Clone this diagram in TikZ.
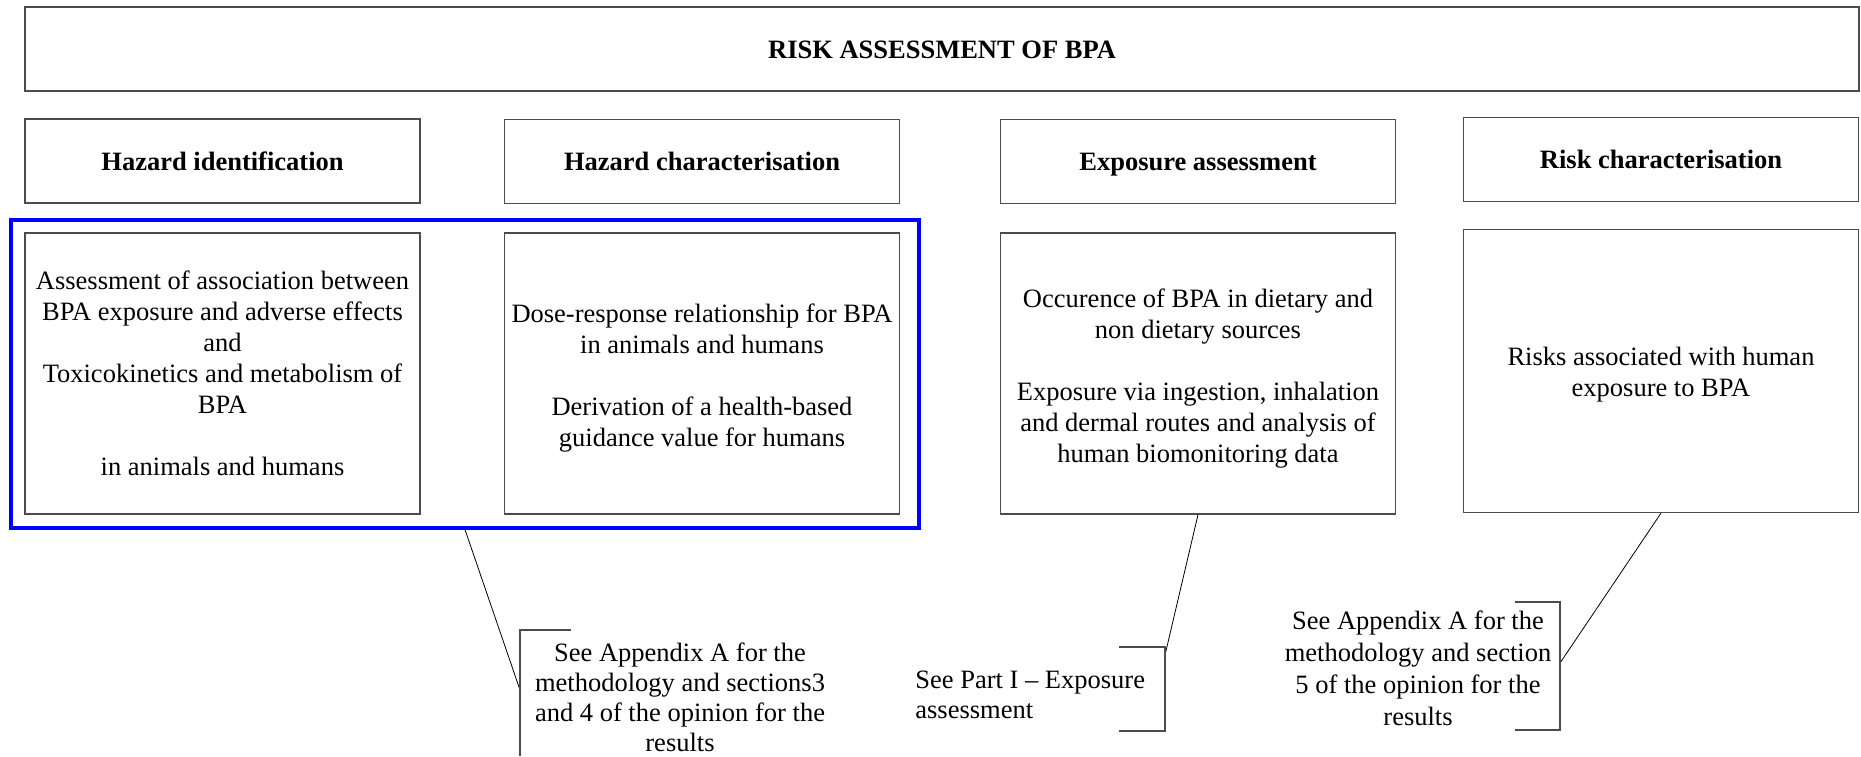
\documentclass[tikz,border=0pt]{standalone}
\usepackage{fontspec}
\setmainfont{Liberation Serif}
\begin{document}
\begin{tikzpicture}[x=0.5pt, y=-0.5pt,
  box/.style={draw=black!70, line width=0.6pt, inner sep=0pt, align=center, font=\fontsize{13.25}{15.5}\selectfont},
  headbox/.style={box, minimum width=197.5pt, minimum height=42pt, text height=9pt, text depth=0pt, font=\fontsize{13.25}{15.5}\selectfont\bfseries},
  bodybox/.style={box, minimum width=197.5pt, minimum height=140.5pt},
  group/.style={draw=blue, line width=1.6pt, inner sep=0pt},
  note/.style={inner sep=0pt, align=center, font=\fontsize{13.25}{15}\selectfont},
  leader/.style={draw=black, line width=0.4pt},
  bracket/.style={draw=black!70, line width=0.6pt}]
  \useasboundingbox (0,0) rectangle (1861,756);
  % title and the four stages
  \node[headbox, minimum width=917pt] (title) at (942,49) {RISK ASSESSMENT OF BPA};
  \node[headbox] (hazid) at (222.5,161) {Hazard identification};
  \node[headbox] (hazchar) at (702,161.5) {Hazard characterisation};
  \node[headbox] (expo) at (1198,161.5) {Exposure assessment};
  \node[headbox] (riskchar) at (1661,159.5) {Risk characterisation};
  % what each stage covers
  \node[bodybox] (hazidbody) at (222.5,373.5) {Assessment of association between\\BPA exposure and adverse effects\\and\\Toxicokinetics and metabolism of\\BPA\\[15.5pt]in animals and humans};
  \node[bodybox] (hazcharbody) at (702,373.5) {\rule{0pt}{14pt}Dose-response relationship for BPA\\in animals and humans\\[15.5pt]Derivation of a health-based\\guidance value for humans};
  \node[bodybox] (expobody) at (1198,373.5) {\rule{0pt}{14pt}Occurence of BPA in dietary and\\non dietary sources\\[15.5pt]Exposure via ingestion, inhalation\\and dermal routes and analysis of\\human biomonitoring data};
  \node[bodybox, minimum height=141.5pt] (riskbody) at (1661,371) {\rule{0pt}{13pt}Risks associated with human\\exposure to BPA};
  \node[group, minimum width=454pt, minimum height=154pt] (hazgroup) at (465,374) {};
  % references to the opinion
  \coordinate (hook1) at (520,690);
  \draw[leader] (hazgroup.south) -- (hook1);
  \draw[bracket] (571,630) -- (520,630) -- (520,756);
  \node[note] (note1) at (680,697) {See Appendix A for the\\methodology and sections3\\and 4 of the opinion for the\\results};
  \coordinate (hook2) at (1165,655);
  \draw[leader] (expobody.south) -- (hook2);
  \draw[bracket] (1119,647) -| (1165,731) -- (1119,731);
  \node[note, align=left, anchor=west] (note2) at (915,695) {See Part I -- Exposure\\assessment};
  \coordinate (hook3) at (1560,663);
  \draw[leader] (riskbody.south) -- (hook3);
  \draw[bracket] (1515,602) -| (1560,730) -- (1515,730);
  \node[note, font=\fontsize{13.25}{16}\selectfont] (note3) at (1418,668) {See Appendix A for the\\methodology and section\\5 of the opinion for the\\results};
\end{tikzpicture}
\end{document}
